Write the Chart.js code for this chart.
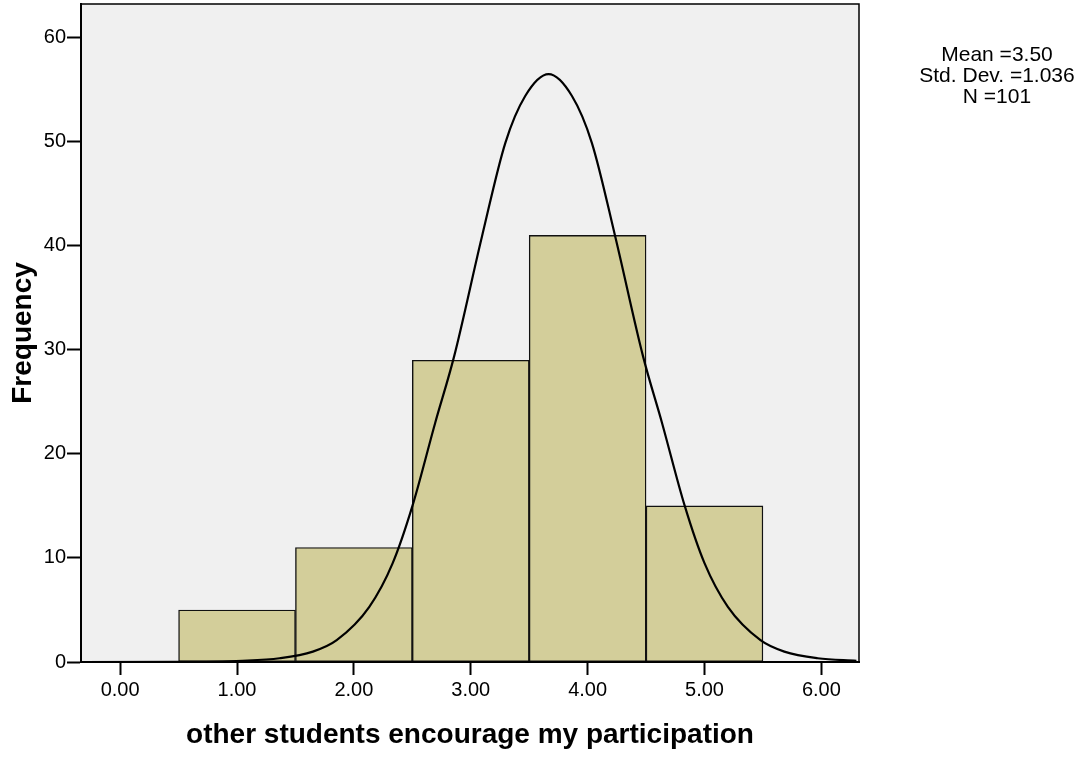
<!DOCTYPE html>
<html>
<head>
<meta charset="utf-8">
<title>other students encourage my participation</title>
<script src="https://cdn.jsdelivr.net/npm/chart.js@4.4.1/dist/chart.umd.min.js"></script>
<style>
  html, body { margin: 0; padding: 0; background: #fff; }
  canvas { display: block; }
</style>
</head>
<body>
<canvas id="chart-area" width="1081" height="758"></canvas>
<script>
'use strict';

// histogram bins (centre of each bin) and their counts
const binCentres = [1, 2, 3, 4, 5];
const counts = [5, 11, 29, 41, 15];

// normal curve
const curveX = [-0.33, 0.5, 1.046, 1.364, 1.649, 1.853, 2.132, 2.332, 2.501, 2.696, 2.856,
  3.096, 3.296, 3.466, 3.666, 3.866, 4.036, 4.236, 4.476, 4.636, 4.831, 5.0, 5.2, 5.479, 5.683, 5.968, 6.3];
const curveY = [0.0, 0.01, 0.12, 0.36, 1.0, 2.1, 5.3, 9.5, 15.0, 23.0, 29.3,
  40.9, 49.9, 54.4, 56.5, 54.4, 49.9, 40.9, 29.3, 23.0, 15.0, 9.5, 5.3, 2.1, 1.0, 0.36, 0.12];

const xTicks = [0, 1, 2, 3, 4, 5, 6];
const yTicks = [0, 10, 20, 30, 40, 50, 60];
const statsLines = ['Mean =3.50', 'Std. Dev. =1.036', 'N =101'];

const FONT = "'Liberation Sans', Arial, sans-serif";

var plotFrame = {
  id: 'plotFrame',
  beforeDraw: (chart)=>{
    const {ctx, chartArea: a} = chart;
    ctx.save();
    ctx.fillStyle = 'rgb(240,240,240)';
    ctx.fillRect(a.left, a.top, a.right - a.left, a.bottom - a.top);
    ctx.restore();
  },
  afterDraw: (chart)=>{
    const {ctx, chartArea: a} = chart;
    ctx.save();
    ctx.strokeStyle = '#000';
    ctx.lineWidth = 1.5;
    ctx.strokeRect(a.left, a.top, a.right - a.left, a.bottom - a.top);
    // stats box on the right
    ctx.fillStyle = '#000';
    ctx.font = '21px ' + FONT;
    ctx.textAlign = 'center';
    ctx.textBaseline = 'middle';
    const ys = [55, 76, 97];
    statsLines.forEach((t, i)=> ctx.fillText(t, 997, ys[i]));
    ctx.restore();
  }
};

var noEdgePad = (s)=>{
  s.paddingTop = 0; s.paddingBottom = 0; s.paddingLeft = 0; s.paddingRight = 0;
};

var config = {
  type: 'bar',
  data: {
    datasets: [{
      type: 'line',
      data: curveX.map((x, i)=>({x: x, y: curveY[i]})),
      borderColor: '#000',
      borderWidth: 2.2,
      pointRadius: 0,
      cubicInterpolationMode: 'monotone',
      fill: false,
      order: 0
    }, {
      type: 'bar',
      data: binCentres.map((x, i)=>({x: x, y: counts[i]})),
      backgroundColor: 'rgb(211,206,154)',
      borderColor: '#111',
      borderWidth: 1.4,
      borderSkipped: false,
      barPercentage: 1,
      categoryPercentage: 1,
      order: 1
    }]
  },
  options: {
    responsive: false,
    animation: false,
    layout: { padding: { top: 4, right: 222, bottom: 0, left: 0 } },
    plugins: { legend: { display: false }, tooltip: { enabled: false } },
    scales: {
      x: {
        type: 'linear',
        offset: false,
        min: -0.335,
        max: 6.322,
        afterFit: (s)=>{ s.height = 96; noEdgePad(s); },
        afterBuildTicks: (s)=>{ s.ticks = xTicks.map(v=>({value: v})); },
        grid: { offset: false, drawOnChartArea: false, tickLength: 13, tickWidth: 2, tickColor: '#000' },
        border: { display: true, color: '#000', width: 2 },
        ticks: {
          color: '#000', padding: 3, maxRotation: 0, autoSkip: false,
          font: { family: FONT, size: 20 },
          callback: (v)=> Number(v).toFixed(2)
        },
        title: {
          display: true, text: 'other students encourage my participation', color: '#000',
          font: { family: FONT, size: 28, weight: 'bold' },
          padding: { top: 0, bottom: 6 }
        }
      },
      y: {
        min: 0,
        max: 63.24,
        afterFit: (s)=>{ s.width = 81; noEdgePad(s); },
        afterBuildTicks: (s)=>{ s.ticks = yTicks.map(v=>({value: v})); },
        grid: { drawOnChartArea: false, tickLength: 14, tickWidth: 2, tickColor: '#000' },
        border: { display: true, color: '#000', width: 2 },
        ticks: {
          color: '#000', padding: 1, autoSkip: false,
          font: { family: FONT, size: 20 }
        },
        title: {
          display: true, text: 'Frequency', color: '#000',
          font: { family: FONT, size: 28, weight: 'bold' },
          padding: { top: 6, bottom: 0 }
        }
      }
    }
  },
  plugins: [plotFrame]
};

window.onload = function() {
  var ctx = document.getElementById('chart-area').getContext('2d');
  window.myHist = new Chart(ctx, config);
};
</script>
</body>
</html>
